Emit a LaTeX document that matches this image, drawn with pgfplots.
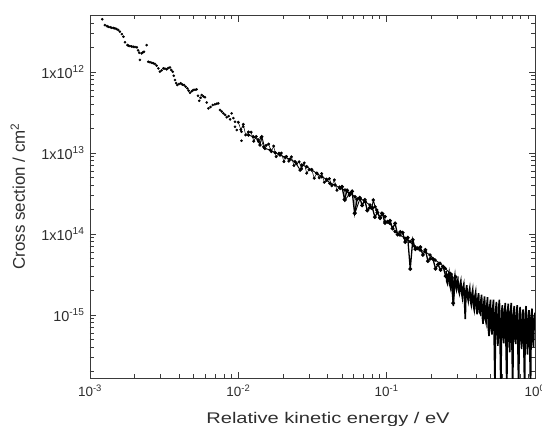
\documentclass[border=0pt]{standalone}
\usepackage{pgfplots}
\usepackage{pgfplotstable}
\usepackage{fontspec}
\setmainfont{Liberation Sans}
\pgfplotsset{compat=1.18}
\definecolor{axgray}{HTML}{3A3A3A}
\definecolor{txtgray}{HTML}{2E2E2E}

\pgfplotstableread{
x y
1.21e-3 4.48e-12
1.26e-3 3.80e-12
1.30e-3 3.70e-12
1.33e-3 3.62e-12
1.37e-3 3.58e-12
1.40e-3 3.52e-12
1.44e-3 3.50e-12
1.47e-3 3.46e-12
1.51e-3 3.40e-12
1.55e-3 3.30e-12
1.59e-3 3.15e-12
1.64e-3 2.94e-12
1.68e-3 2.73e-12
1.72e-3 2.33e-12
1.79e-3 2.15e-12
1.82e-3 2.11e-12
1.86e-3 2.09e-12
1.91e-3 2.07e-12
1.96e-3 2.05e-12
2.01e-3 2.04e-12
2.07e-3 2.02e-12
2.11e-3 1.85e-12
2.15e-3 1.73e-12
2.17e-3 1.41e-12
2.23e-3 1.70e-12
2.27e-3 1.75e-12
2.31e-3 1.78e-12
2.41e-3 2.15e-12
2.47e-3 1.34e-12
2.54e-3 1.32e-12
2.61e-3 1.30e-12
2.67e-3 1.28e-12
2.74e-3 1.26e-12
2.81e-3 1.20e-12
2.89e-3 1.11e-12
2.96e-3 1.01e-12
3.04e-3 1.05e-12
3.12e-3 1.11e-12
3.20e-3 1.10e-12
3.29e-3 1.08e-12
3.37e-3 1.12e-12
3.46e-3 1.14e-12
3.53e-3 1.06e-12
3.61e-3 1.01e-12
3.67e-3 9.00e-13
3.74e-3 7.96e-13
3.81e-3 7.30e-13
3.88e-3 6.91e-13
3.98e-3 7.10e-13
4.09e-3 7.25e-13
4.19e-3 7.00e-13
4.30e-3 6.91e-13
4.41e-3 6.60e-13
4.53e-3 6.29e-13
4.62e-3 5.90e-13
4.72e-3 5.55e-13
4.85e-3 5.80e-13
4.97e-3 6.00e-13
5.10e-3 6.05e-13
5.24e-3 6.11e-13
5.35e-3 5.10e-13
5.46e-3 4.42e-13
5.56e-3 4.80e-13
5.66e-3 5.20e-13
5.81e-3 5.00e-13
5.96e-3 4.87e-13
6.12e-3 4.20e-13
6.28e-3 3.56e-13
6.50e-3 3.70e-13
6.72e-3 3.92e-13
6.95e-3 4.00e-13
7.15e-3 4.05e-13
7.33e-3 4.11e-13
7.53e-3 3.40e-13
7.73e-3 3.25e-13
7.93e-3 3.09e-13
8.15e-3 2.95e-13
8.36e-3 2.76e-13
8.60e-3 2.85e-13
8.80e-3 2.60e-13
9.02e-3 3.09e-13
9.26e-3 2.70e-13
9.50e-3 2.11e-13
9.50e-3 2.43e-13
9.76e-3 1.92e-13
1.05e-2 1.83e-13
1.05e-2 1.42e-13
1.08e-2 2.11e-13
}\lowE

\pgfplotstableread{
x y
0.0100 2.40e-13
0.0104 1.94e-13
0.0108 2.26e-13
0.0112 1.67e-13
0.0117 1.82e-13
0.0122 1.81e-13
0.0127 1.40e-13
0.0132 1.60e-13
0.0137 1.38e-13
0.0142 1.54e-13
0.0148 1.19e-13
0.0154 1.24e-13
0.0160 1.29e-13
0.0167 1.04e-13
0.0173 1.22e-13
0.0180 9.02e-14
0.0188 9.95e-14
0.0195 1.00e-13
0.0203 7.83e-14
0.0211 9.06e-14
0.0219 7.94e-14
0.0228 8.97e-14
0.0237 7.01e-14
0.0247 7.40e-14
0.0257 7.80e-14
0.0267 6.38e-14
0.0278 7.55e-14
0.0289 5.64e-14
0.0300 6.22e-14
0.0312 6.27e-14
0.0325 4.89e-14
0.0338 5.65e-14
0.0351 4.94e-14
0.0365 5.57e-14
0.0380 4.35e-14
0.0395 4.58e-14
0.0411 4.82e-14
0.0427 3.94e-14
0.0444 4.66e-14
0.0462 3.47e-14
0.0481 3.82e-14
0.0500 3.84e-14
}\midA

\pgfplotstableread{
x y
0.0500 3.84e-14
0.0520 2.67e-14
0.0541 3.46e-14
0.0562 3.03e-14
0.0585 3.37e-14
0.0608 1.80e-14
0.0633 2.70e-14
0.0658 2.81e-14
0.0684 2.26e-14
0.0712 2.64e-14
0.0740 1.95e-14
0.0770 2.12e-14
0.0801 2.10e-14
0.0833 1.62e-14
0.0866 1.85e-14
0.0901 1.60e-14
0.0937 1.78e-14
0.0974 1.37e-14
0.1013 1.42e-14
0.1054 1.46e-14
0.1096 1.17e-14
0.1140 1.35e-14
0.1185 9.84e-15
0.1233 1.06e-14
0.1282 1.04e-14
0.1333 7.96e-15
0.1387 8.99e-15
0.1442 3.69e-15
0.1500 8.51e-15
0.1560 6.50e-15
0.1622 6.68e-15
0.1687 6.89e-15
0.1755 5.51e-15
0.1825 6.37e-15
0.1898 4.63e-15
0.1974 4.99e-15
0.2053 4.90e-15
0.2135 3.73e-15
0.2220 4.21e-15
0.2309 3.60e-15
0.2401 3.97e-15
0.2497 3.03e-15
0.2597 3.11e-15
0.2701 3.20e-15
0.2809 1.40e-15
0.2922 2.94e-15
}\midB

\pgfplotstableread{
x y
1.17e-2 1.67e-13
1.26e-2 1.59e-13
1.36e-2 1.45e-13
1.40e-2 1.26e-13
1.44e-2 1.59e-13
1.51e-2 1.14e-13
1.64e-2 1.09e-13
1.77e-2 1.01e-13
1.91e-2 9.45e-14
2.07e-2 8.85e-14
2.23e-2 8.36e-14
2.41e-2 7.81e-14
2.61e-2 6.17e-14
2.68e-2 7.11e-14
2.89e-2 6.78e-14
3.13e-2 6.17e-14
3.38e-2 5.61e-14
3.65e-2 5.09e-14
3.94e-2 4.73e-14
4.15e-2 4.22e-14
4.49e-2 4.03e-14
4.85e-2 3.66e-14
5.24e-2 3.49e-14
5.24e-2 2.63e-14
5.66e-2 3.18e-14
6.12e-2 2.89e-14
6.12e-2 1.82e-14
6.62e-2 2.76e-14
7.15e-2 2.51e-14
7.73e-2 2.28e-14
7.94e-2 2.08e-14
8.13e-2 2.63e-14
8.36e-2 2.17e-14
8.57e-2 1.98e-14
9.02e-2 1.56e-14
9.27e-2 1.80e-14
9.75e-2 1.64e-14
9.75e-2 1.42e-14
1.05e-1 1.36e-14
1.14e-1 1.07e-14
1.23e-1 9.72e-15
1.33e-1 8.85e-15
1.44e-1 8.04e-15
1.55e-1 6.97e-15
1.68e-1 6.34e-15
1.82e-1 6.04e-15
1.96e-1 5.50e-15
2.12e-1 4.77e-15
2.29e-1 4.35e-15
2.48e-1 3.77e-15
2.68e-1 3.27e-15
2.89e-1 2.70e-15
3.13e-1 2.23e-15
3.38e-1 1.85e-15
3.65e-1 1.68e-15
3.94e-1 1.61e-15
4.27e-1 1.39e-15
4.61e-1 1.26e-15
}\midC

\pgfplotstableread{
x y
0.2512 3.47e-15
0.2541 2.60e-15
0.2570 2.45e-15
0.2600 3.00e-15
0.2630 3.31e-15
0.2661 2.40e-15
0.2692 2.19e-15
0.2724 2.90e-15
0.2754 3.02e-15
0.2787 2.10e-15
0.2818 1.29e-15
0.2851 2.60e-15
0.2884 3.02e-15
0.2917 2.30e-15
0.2951 2.09e-15
0.2986 2.60e-15
0.3020 2.75e-15
0.3055 2.00e-15
0.3090 1.86e-15
0.3126 2.40e-15
0.3162 2.63e-15
0.3199 1.90e-15
0.3236 1.66e-15
0.3274 2.20e-15
0.3311 2.40e-15
0.3349 1.50e-15
0.3388 8.91e-16
0.3427 2.00e-15
0.3467 2.34e-15
0.3507 1.70e-15
0.3548 1.51e-15
0.3589 1.90e-15
0.3631 2.14e-15
0.3673 1.50e-15
0.3715 1.35e-15
0.3758 1.80e-15
0.3802 2.04e-15
0.3846 1.30e-15
0.3890 1.17e-15
0.3935 1.70e-15
0.3981 1.91e-15
0.4027 1.20e-15
0.4074 1.02e-15
0.4121 1.60e-15
0.4169 1.86e-15
0.4217 1.10e-15
0.4266 1.05e-15
0.4315 1.50e-15
0.4365 1.78e-15
0.4415 9.50e-16
0.4467 7.76e-16
0.4519 1.40e-15
0.4571 1.70e-15
0.4623 9.00e-16
0.4677 8.13e-16
0.4731 1.30e-15
0.4786 1.66e-15
0.4841 7.00e-16
0.4898 5.50e-16
0.4954 1.25e-15
0.5012 1.55e-15
0.5070 6.50e-16
0.5129 5.75e-16
0.5188 1.20e-15
0.5248 1.55e-15
0.5309 5.00e-16
0.5370 1.38e-16
0.5432 1.15e-15
0.5495 1.45e-15
0.5558 6.00e-16
0.5623 4.17e-16
0.5688 1.20e-15
0.5754 1.55e-15
0.5820 4.50e-16
0.5888 1.15e-16
0.5956 1.10e-15
0.6026 1.32e-15
0.6095 5.50e-16
0.6166 4.47e-16
0.6237 1.15e-15
0.6310 1.41e-15
0.6382 4.00e-16
0.6457 1.26e-16
0.6531 1.10e-15
0.6607 1.38e-15
0.6683 5.50e-16
0.6761 3.47e-16
0.6839 1.10e-15
0.6918 1.41e-15
0.6998 4.00e-16
0.7079 1.23e-16
0.7161 1.05e-15
0.7244 1.29e-15
0.7328 5.50e-16
0.7413 4.37e-16
0.7499 1.05e-15
0.7586 1.32e-15
0.7674 4.00e-16
0.7762 1.07e-16
0.7852 1.00e-15
0.7943 1.26e-15
0.8035 5.00e-16
0.8128 3.80e-16
0.8222 1.00e-15
0.8318 1.17e-15
0.8414 4.00e-16
0.8511 1.17e-16
0.8610 1.05e-15
0.8710 1.29e-15
0.8810 5.00e-16
0.8913 3.24e-16
0.9016 9.50e-16
0.9120 1.15e-15
0.9225 4.00e-16
0.9333 1.15e-16
0.9440 1.00e-15
0.9550 1.20e-15
0.9660 5.00e-16
0.9772 3.98e-16
0.9885 9.00e-16
1.0000 1.07e-15
}\tail

\begin{document}
\begin{tikzpicture}
\begin{axis}[
  xmode=log, ymode=log,
  scale only axis,
  width=445bp, height=363bp,
  xmin=1e-3, xmax=1,
  ymin=1.667e-16, ymax=5.06e-12,
  axis line style={axgray, line width=0.9bp},
  tick style={axgray, line width=0.8bp},
  tick align=inside,
  major tick length=6.5bp,
  minor tick length=4bp,
  xtick={1e-3,1e-2,1e-1,1},
  minor xtick={2e-3,3e-3,4e-3,5e-3,6e-3,7e-3,8e-3,9e-3,2e-2,3e-2,4e-2,5e-2,6e-2,7e-2,8e-2,9e-2,2e-1,3e-1,4e-1,5e-1,6e-1,7e-1,8e-1,9e-1},
  xticklabels={10\textsuperscript{-3},10\textsuperscript{-2},10\textsuperscript{-1},10\textsuperscript{0}},
  ytick={1e-12,1e-13,1e-14,1e-15},
  minor ytick={2e-16,3e-16,4e-16,5e-16,6e-16,7e-16,8e-16,9e-16,2e-15,3e-15,4e-15,5e-15,6e-15,7e-15,8e-15,9e-15,2e-14,3e-14,4e-14,5e-14,6e-14,7e-14,8e-14,9e-14,2e-13,3e-13,4e-13,5e-13,6e-13,7e-13,8e-13,9e-13,2e-12,3e-12,4e-12,5e-12},
  yticklabels={1x10\textsuperscript{12},1x10\textsuperscript{13},1x10\textsuperscript{14},10\textsuperscript{-15}},
  xticklabel style={font=\fontsize{13.5}{14}\selectfont, text=txtgray, yshift=-3bp},
  yticklabel style={font=\fontsize{14.5}{15}\selectfont, text=txtgray, xshift=-2bp},
  clip=true,
]
\addplot[only marks, mark=*, mark size=1.1bp, black] table {\lowE};
\addplot[black, line width=0.5bp, mark=*, mark size=1.25bp] table {\midA};
\addplot[black, line width=0.9bp, mark=*, mark size=1.25bp] table {\midC};
\addplot[black, line width=1.3bp, mark=*, mark size=1.2bp] table {\midB};
\addplot[black, line width=1.6bp] table {\tail};
\end{axis}
\node[anchor=base, text=txtgray, font=\fontsize{15.5}{16}\selectfont] at (238bp,-45bp) {\scalebox{1.3}[1]{Relative kinetic energy / eV}};
\node[anchor=base, rotate=90, text=txtgray, font=\fontsize{17}{18}\selectfont] at (-65bp,181.5bp) {Cross section / cm\textsuperscript{2}};
\pgfresetboundingbox
\path[use as bounding box] (-90bp,-48bp) rectangle (452bp,378bp);
\end{tikzpicture}
\end{document}
